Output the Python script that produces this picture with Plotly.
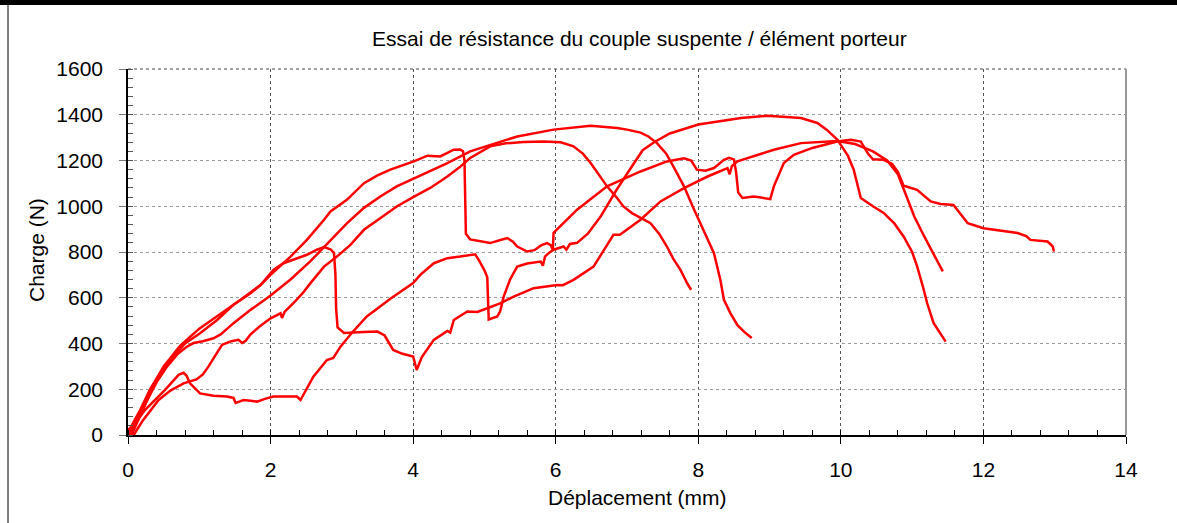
import plotly.graph_objects as go

# test curves: displacement (mm) / load (N)
a_x = [0.08, 0.2, 0.43, 0.6, 0.78, 0.96, 1.05, 1.13, 1.25, 1.32, 1.45, 1.55, 1.6, 1.65, 1.72, 1.85,
       2.0, 2.14, 2.16, 2.2, 2.32, 2.45, 2.56, 2.75, 2.93, 3.12, 3.31, 3.55, 3.77, 4.0, 4.24, 4.48,
       4.65, 4.8, 4.95, 5.08, 5.3, 5.55, 5.83, 6.07, 6.25, 6.38, 6.49, 6.6, 6.72, 6.85, 6.95, 7.07,
       7.19, 7.33, 7.45, 7.56, 7.65, 7.75, 7.85, 7.9]
a_y = [0, 60, 153, 195, 226, 243, 265, 300, 360, 394, 410, 416, 402, 412, 440, 475,
       510, 532, 512, 540, 576, 620, 664, 736, 780, 831, 897, 950, 999, 1040, 1080, 1130,
       1170, 1211, 1240, 1262, 1275, 1281, 1283, 1280, 1262, 1230, 1189, 1140, 1087, 1040, 999, 970,
       948, 926, 880, 824, 770, 722, 660, 635]

b_x = [0.05, 0.12, 0.25, 0.4, 0.55, 0.7, 0.82, 0.92, 1.05, 1.2, 1.3, 1.48, 1.72, 2.0, 2.28, 2.56,
       2.84, 3.07, 3.31, 3.55, 3.77, 4.0, 4.24, 4.48, 4.8, 5.08, 5.46, 5.97, 6.49, 6.86, 7.0, 7.19,
       7.3, 7.42, 7.55, 7.65, 7.8, 7.92, 8.03, 8.12, 8.22, 8.31, 8.36, 8.45, 8.55, 8.64, 8.72, 8.75]
b_y = [0, 50, 140, 230, 300, 355, 385, 402, 410, 423, 440, 489, 547, 610, 680, 760,
       853, 925, 993, 1045, 1087, 1120, 1152, 1189, 1240, 1269, 1305, 1335, 1352, 1342, 1335, 1322,
       1305, 1276, 1230, 1174, 1087, 1000, 926, 860, 795, 678, 591, 533, 480, 452, 432, 424]

c_x = [0.0, 0.05, 0.17, 0.31, 0.5, 0.73, 1.0, 1.25, 1.58, 1.86, 2.0, 2.28, 2.51, 2.75, 2.84, 3.07,
       3.31, 3.5, 3.68, 4.01, 4.2, 4.38, 4.57, 4.66, 4.7, 4.72, 4.73, 4.74, 4.8, 4.99, 5.08, 5.2,
       5.32, 5.4, 5.46, 5.6, 5.7, 5.8, 5.88, 5.93, 5.96, 5.97, 6.3, 6.72, 7.19, 7.56, 7.8, 7.9,
       7.98, 8.1, 8.22, 8.36, 8.43, 8.5, 8.53, 8.56, 8.62, 8.78, 9.01, 9.06, 9.2, 9.34, 9.6, 9.95,
       10.14, 10.28, 10.38, 10.45, 10.6, 10.72, 10.8, 10.88, 11.0, 11.07, 11.26, 11.4, 11.58, 11.7,
       11.78, 12.0, 12.2, 12.48, 12.6, 12.66, 12.9, 12.97, 12.99]
c_y = [15, 40, 109, 200, 300, 390, 465, 518, 591, 656, 700, 780, 853, 941, 977, 1028,
       1101, 1135, 1160, 1196, 1221, 1218, 1247, 1248, 1240, 1200, 1000, 880, 855, 846, 839, 850,
       861, 845, 824, 802, 808, 830, 839, 830, 810, 884, 985, 1087, 1152, 1196, 1210, 1200,
       1160, 1155, 1167, 1203, 1212, 1205, 1150, 1060, 1036, 1043, 1031, 1087, 1189, 1225, 1255, 1283,
       1291, 1283, 1230, 1205, 1203, 1185, 1150, 1090, 1078, 1072, 1021, 1010, 1006, 960,
       926, 904, 895, 883, 870, 853, 846, 825, 802]

d_x = [0.02, 0.1, 0.22, 0.35, 0.55, 0.8, 1.01, 1.25, 1.48, 1.72, 1.86, 2.04, 2.18, 2.37, 2.51, 2.65,
       2.75, 2.84, 2.89, 2.91, 2.92, 2.94, 3.03, 3.3, 3.5, 3.6, 3.72, 3.85, 4.0, 4.05, 4.12, 4.29,
       4.48, 4.52, 4.57, 4.76, 4.9, 5.05, 5.22, 5.41, 5.69, 6.02, 6.1, 6.25, 6.53, 6.7, 6.81, 6.9,
       7.19, 7.47, 7.8, 8.13, 8.41, 8.44, 8.47, 8.55, 9.06, 9.44, 9.95, 10.2, 10.45, 10.65, 10.8,
       10.9, 11.03, 11.17, 11.35, 11.43]
d_y = [0, 60, 120, 210, 310, 400, 445, 503, 569, 620, 656, 722, 751, 773, 788, 810,
       822, 812, 795, 700, 550, 470, 446, 450, 452, 435, 372, 355, 343, 284, 340, 416,
       455, 448, 503, 540, 538, 555, 575, 605, 642, 656, 655, 678, 736, 820, 875, 875,
       941, 1021, 1079, 1130, 1167, 1140, 1175, 1196, 1247, 1276, 1285, 1272, 1240, 1200, 1140,
       1060, 955, 868, 766, 715]

e_x = [0.0, 0.05, 0.1, 0.24, 0.52, 0.71, 0.78, 0.82, 0.87, 1.01, 1.2, 1.39, 1.48, 1.51, 1.58, 1.62,
       1.72, 1.81, 1.92, 2.04, 2.2, 2.37, 2.42, 2.5, 2.6, 2.79, 2.88, 2.98, 3.15, 3.35, 3.7, 4.0,
       4.1, 4.29, 4.48, 4.66, 4.87, 4.93, 5.0, 5.04, 5.06, 5.18, 5.22, 5.27, 5.36, 5.46, 5.6, 5.79,
       5.82, 5.85, 5.9, 5.97, 6.11, 6.15, 6.2, 6.3, 6.45, 6.63, 6.85, 7.1, 7.22, 7.38, 7.6, 8.0,
       8.6, 8.97, 9.44, 9.67, 9.8, 9.95, 10.1, 10.18, 10.25, 10.28, 10.45, 10.6, 10.75, 10.88, 11.0,
       11.07, 11.15, 11.21, 11.3, 11.4, 11.47]
e_y = [30, 10, 50, 110, 197, 263, 272, 260, 226, 182, 172, 168, 162, 140, 148, 153,
       150, 146, 158, 168, 168, 168, 153, 200, 255, 328, 337, 386, 450, 518, 600, 664,
       700, 751, 773, 780, 790, 760, 720, 690, 505, 518, 540, 605, 680, 736, 750, 758,
       740, 780, 795, 810, 824, 810, 835, 840, 880, 955, 1070, 1189, 1245, 1280, 1318, 1357,
       1386, 1396, 1386, 1364, 1335, 1291, 1220, 1160, 1080, 1036, 1000, 971, 925, 868, 800,
       737, 650, 577, 490, 440, 408]

curves = [(a_x, a_y), (b_x, b_y), (c_x, c_y), (d_x, d_y), (e_x, e_y)]

W, H = 1177, 523
L, R, T, B = 128, 51, 69, 88
FONT = "Arial, Liberation Sans, sans-serif"
FS = 21


def px(x):
    return (x - L) / (W - L - R)


def py(y):
    return (H - B - y) / (H - T - B)


fig = go.Figure()
for xs, ys in curves:
    fig.add_trace(go.Scatter(x=xs, y=ys, mode="lines",
                             line=dict(color="#FF0000", width=2.5), showlegend=False))

fig.update_xaxes(
    range=[0, 14], dtick=2, showline=True, linecolor="black", linewidth=1.5,
    ticks="outside", ticklen=7, tickcolor="black", ticklabelstandoff=8,
    showgrid=True, gridcolor="#555555", griddash="dot", gridwidth=1, zeroline=False,
    minor=dict(dtick=0.4, ticks="inside", ticklen=5, tickcolor="black", showgrid=False),
    tickfont=dict(size=FS, color="black", family=FONT),
)
fig.update_yaxes(
    range=[0, 1600], dtick=200, showline=True, linecolor="black", linewidth=1.5,
    ticks="outside", ticklen=7, tickcolor="#777777", ticklabelstandoff=12,
    showgrid=True, gridcolor="#9a9a9a", griddash="dot", gridwidth=1, zeroline=False,
    minor=dict(dtick=40, ticks="inside", ticklen=5, tickcolor="#555555", showgrid=False),
    tickfont=dict(size=FS, color="black", family=FONT),
)

text_font = dict(size=FS, color="black", family=FONT)
fig.add_annotation(text="Essai de résistance du couple suspente / élément porteur",
                   xref="paper", yref="paper", x=px(639), y=py(38),
                   xanchor="center", yanchor="middle", showarrow=False, font=text_font)
fig.add_annotation(text="Déplacement (mm)", xref="paper", yref="paper",
                   x=px(637), y=py(497), xanchor="center", yanchor="middle",
                   showarrow=False, font=text_font)
fig.add_annotation(text="Charge (N)", xref="paper", yref="paper", textangle=-90,
                   x=px(36), y=py(250), xanchor="center", yanchor="middle",
                   showarrow=False, font=text_font)

# frame: top dotted border, grey right border, black bar and left rule of the image
fig.add_shape(type="line", xref="paper", yref="paper", x0=0, x1=1, y0=1, y1=1,
              line=dict(color="#444444", width=1, dash="dot"))
fig.add_shape(type="line", xref="paper", yref="paper", x0=1, x1=1, y0=0, y1=1,
              line=dict(color="#999999", width=2))
fig.add_shape(type="rect", xref="paper", yref="paper", x0=px(0), x1=px(W), y0=py(5), y1=py(-2),
              fillcolor="black", line=dict(width=0))
fig.add_shape(type="line", xref="paper", yref="paper", x0=px(8), x1=px(8), y0=py(H), y1=py(5),
              line=dict(color="black", width=1))

fig.update_layout(
    width=W, height=H,
    margin=dict(l=L, r=R, t=T, b=B),
    paper_bgcolor="white", plot_bgcolor="white",
    font=dict(family=FONT, color="black"),
)

fig.write_html("out.html", config={"displayModeBar": False},
               post_script="document.body.style.margin = '0';")
